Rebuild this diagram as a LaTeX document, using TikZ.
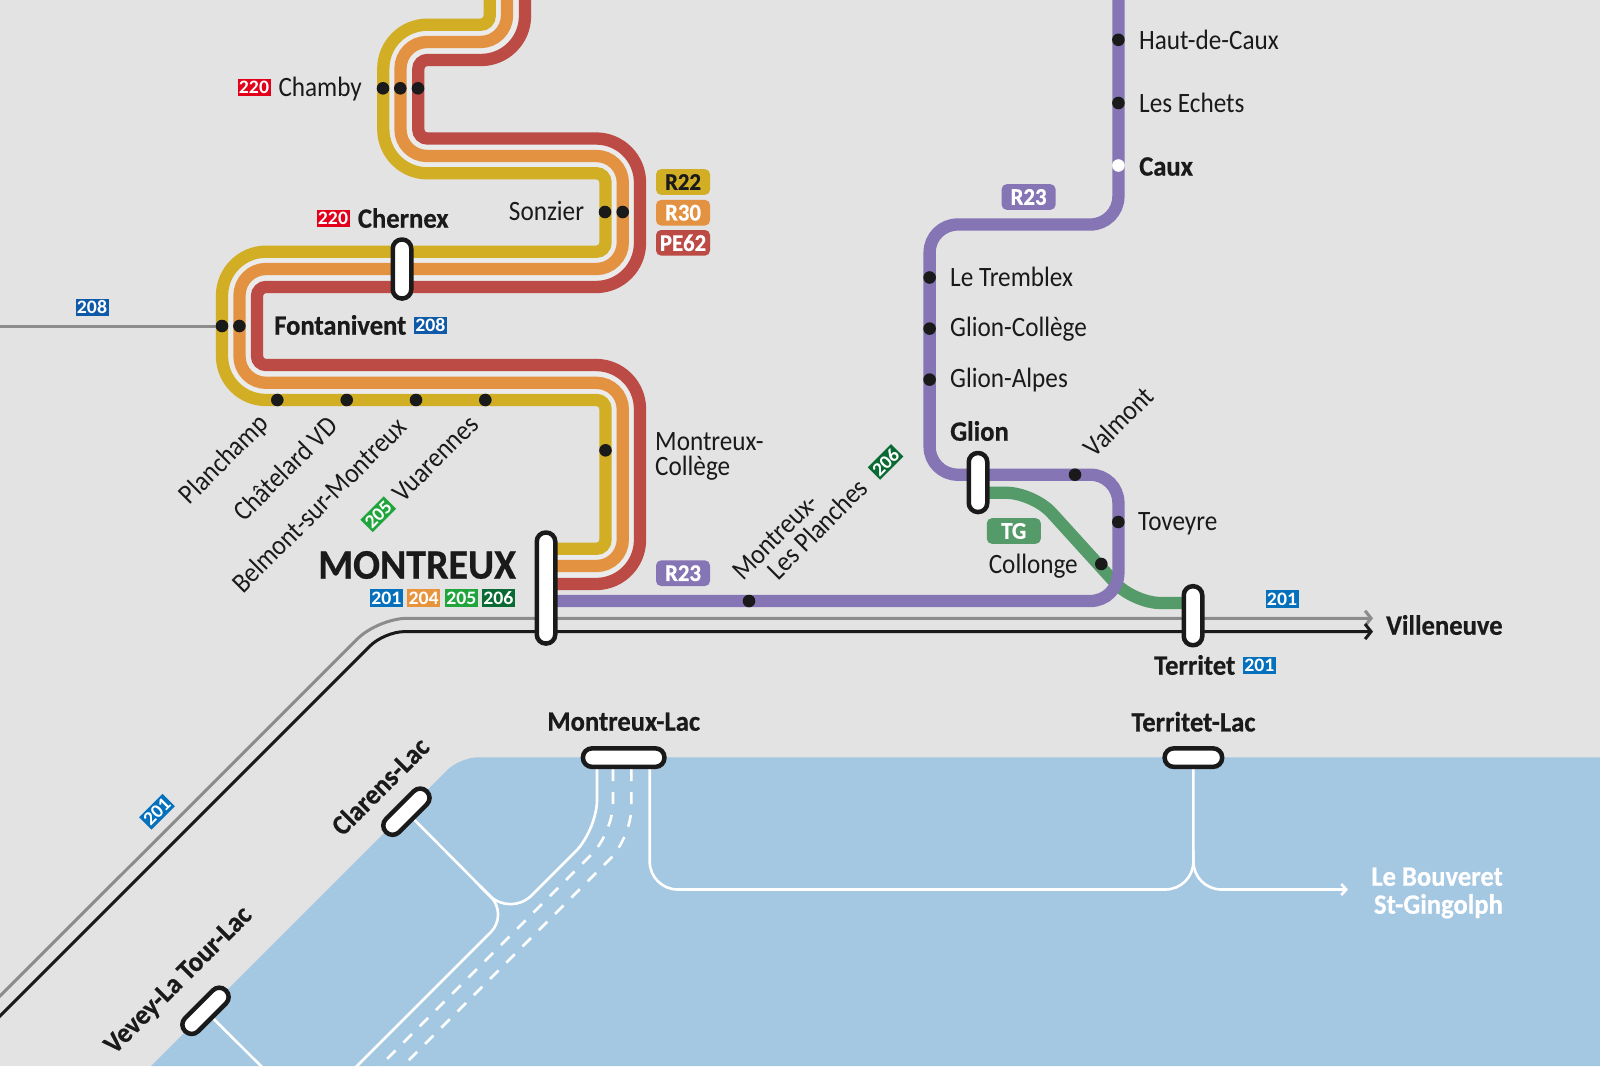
\documentclass[tikz,border=0pt]{standalone}
\usepackage{fontspec}
\setmainfont{Carlito}[FakeStretch=0.9, BoldFeatures={FakeStretch=0.95, FakeBold=0.6}]
\newfontfamily\badgefont{Carlito}[FakeStretch=1.04]
\usetikzlibrary{arrows.meta,backgrounds}
\definecolor{ink}{HTML}{1A1A1A}
\definecolor{paper}{HTML}{E3E3E3}
\definecolor{gapgrey}{HTML}{EBEBEB}
\definecolor{lake}{HTML}{A4C7E2}
\definecolor{lineyellow}{HTML}{D1AE24}
\definecolor{lineorange}{HTML}{E39241}
\definecolor{linered}{HTML}{BC4B45}
\definecolor{linepurple}{HTML}{8675B4}
\definecolor{linegreen}{HTML}{559B69}
\definecolor{railgrey}{HTML}{8C8C8C}
\definecolor{bus201}{HTML}{0570BB}
\definecolor{bus208}{HTML}{0F5AA8}
\definecolor{bus204}{HTML}{E8943D}
\definecolor{bus205}{HTML}{1FA53C}
\definecolor{bus206}{HTML}{0A6A33}
\definecolor{bus220}{HTML}{E2001A}
\tikzset{
    track/.style={line width=12.3pt},
    rail/.style={line width=3pt},
    ferry/.style={draw=white, line width=2.6pt},
    ferrydash/.style={ferry, dash pattern=on 12pt off 11pt},
    station/.style={rectangle, draw=ink, fill=white, line width=4.5pt, rounded corners=9pt, minimum width=18.5pt, inner sep=0pt},
    pier/.style={rectangle, draw=ink, fill=white, line width=4.5pt, rounded corners=9pt, minimum height=18.5pt, inner sep=0pt},
    halt/.style={circle, fill=ink, minimum size=12.6pt, inner sep=0pt},
    stopname/.style={text=ink, inner sep=0pt, font=\fontsize{28}{25}\selectfont, align=left},
    boldname/.style={stopname, font=\fontsize{28}{25}\selectfont\bfseries},
    busbadge/.style={fill=#1, text=white, minimum width=33pt, minimum height=17.5pt, inner sep=0pt, font=\fontsize{19}{19}\selectfont\badgefont\bfseries},
    linebadge/.style={fill=#1, text=white, rounded corners=5pt, minimum width=54pt, minimum height=25.6pt, inner sep=0pt, font=\fontsize{24}{24}\selectfont\bfseries}
}
\begin{document}
\begin{tikzpicture}[x=1pt, y=-1pt]
    \useasboundingbox (0,0) rectangle (1600,1066);

    \node[station, minimum height=59pt] (chernex) at (402,269) {};
    \node[station, minimum height=111pt] (montreux) at (546,588) {};
    \node[station, minimum height=59pt] (glion) at (978,482.5) {};
    \node[station, minimum height=59pt] (territet) at (1193,615.7) {};
    \node[pier, minimum width=81.5pt] (montreuxlac) at (623.7,757.6) {};
    \node[pier, minimum width=57.5pt] (territetlac) at (1193.4,757.6) {};
    \node[pier, minimum width=57.5pt, rotate=45] (clarenslac) at (406.4,811.7) {};
    \node[pier, minimum width=57.5pt, rotate=45] (veveylac) at (205.5,1010.8) {};

    \node[halt] (chamby1) at (383,88.3) {};
    \node[halt] (chamby2) at (400.3,88.3) {};
    \node[halt] (chamby3) at (418,88.3) {};
    \node[halt] (sonzier1) at (605,212) {};
    \node[halt] (sonzier2) at (622.7,212) {};
    \node[halt] (fontanivent1) at (222,326) {};
    \node[halt] (fontanivent2) at (239.4,326) {};
    \node[halt] (planchamp) at (277.3,400) {};
    \node[halt] (chatelard) at (346.7,400) {};
    \node[halt] (belmont) at (416,400) {};
    \node[halt] (vuarennes) at (485.3,400) {};
    \node[halt] (college) at (605.5,450.3) {};
    \node[halt] (planches) at (749,601) {};
    \node[halt] (hautdecaux) at (1118.4,39.8) {};
    \node[halt] (echets) at (1118.4,103) {};
    \node[circle, fill=white, minimum size=12.6pt, inner sep=0pt] (caux) at (1118.4,165.5) {};
    \node[halt] (tremblex) at (929.6,277.5) {};
    \node[halt] (glioncollege) at (929.6,328.6) {};
    \node[halt] (glionalpes) at (929.6,379.6) {};
    \node[halt] (valmont) at (1075,474.7) {};
    \node[halt] (toveyre) at (1118.3,522) {};
    \node[halt] (collonge) at (1101.3,564) {};

    \coordinate (yellowtop) at (489.7,-10);
    \coordinate (orangetop) at (507,-10);
    \coordinate (redtop) at (525,-10);
    \coordinate (purpletop) at (1118.4,-10);
    \coordinate (westedge) at (-10,326);
    \coordinate (greyend) at (1373,618.3);
    \coordinate (blackend) at (1373,631.6);
    \coordinate (bouveret) at (1348,889.5);

    \begin{scope}[on background layer]
        \fill[paper] (0,0) rectangle (1600,1066);
        \fill[lake] (151,1066) [rounded corners=18pt] -- (460,757.3) [sharp corners] -- (1600,757.3) -- (1600,1066) -- cycle;

        \draw[ferry] (veveylac.center) -- (270,1075);
        \draw[ferry, rounded corners=25pt] (clarenslac.center) -- (508.4,914.6) -- (345,1078);
        \draw[ferry, rounded corners=30pt] (montreuxlac.center -| 597,0) -- (597,830) -- (510.4,916.6) -- (480,886);
        \draw[ferrydash, rounded corners=30pt] (613,769) -- (613,833) -- (375,1071);
        \draw[ferrydash, rounded corners=30pt] (631.3,769) -- (631.3,837.7) -- (397,1072);
        \draw[ferry, rounded corners=28pt] (montreuxlac.center -| 649.7,0) -- (649.7,889.5) -- (1193.4,889.5) -- (1193.4,850);
        \draw[ferry, -{Straight Barb[length=5pt,width=11pt]}, rounded corners=28pt] (territetlac.center) -- (1193.4,889.5) -- (bouveret);

        \draw[railgrey, line width=3pt] (westedge) -- (fontanivent1);
        \draw[rail, railgrey, -{Straight Barb[length=6pt,width=15pt]}, rounded corners=29pt] (-15,1011) -- (378,618.3) -- (greyend);
        \draw[rail, ink, -{Straight Barb[length=6pt,width=15pt]}, rounded corners=20pt] (-15,1031) -- (384.4,631.6) -- (blackend);

        \draw[gapgrey, line width=24pt, rounded corners=26.5pt] (orangetop) -- (507,42) -- (400.5,42) -- (400.5,156) -- (622.8,156) -- (622.8,269) -- (239.5,269) -- (239.5,382.8) -- (622.8,382.8) -- (622.8,566) -- (montreux.center |- 0,566);
        \draw[track, lineorange, rounded corners=26.5pt] (orangetop) -- (507,42) -- (400.5,42) -- (400.5,156) -- (622.8,156) -- (622.8,269) -- (239.5,269) -- (239.5,382.8) -- (622.8,382.8) -- (622.8,566) -- (montreux.center |- 0,566);
        \draw[track, lineyellow] (yellowtop) [rounded corners=9pt] -- (489.7,24.7) [rounded corners=44pt] -- (383.3,24.7) -- (383.3,173.3) [rounded corners=9pt] -- (605.5,173.3) -- (605.5,251.7) [rounded corners=44pt] -- (222,251.7) -- (222,400) [rounded corners=9pt] -- (605.5,400) -- (605.5,548.8) -- (montreux.center |- 0,548.8);
        \draw[track, linered] (redtop) [rounded corners=44pt] -- (525,60) [rounded corners=9pt] -- (418.3,60) -- (418.3,138.5) [rounded corners=44pt] -- (640,138.5) -- (640,287) [rounded corners=9pt] -- (257,287) -- (257,365) [rounded corners=44pt] -- (640,365) -- (640,584) -- (montreux.center |- 0,584);
        \draw[track, linegreen, rounded corners=27pt] (glion.center |- 0,492.8) -- (1033.4,492.8) -- (1133.5,603) -- (territet.center |- 0,603);
        \draw[track, linepurple, rounded corners=28pt] (purpletop) -- (1118.4,224.5) -- (929.6,224.5) -- (929.6,474.7) -- (1118.4,474.7) -- (1118.4,601) -- (montreux.center |- 0,601);
    \end{scope}

    \node[linebadge=lineyellow, text=ink] (r22) at (683,182) {R22};
    \node[linebadge=lineorange] (r30) at (683,212.7) {R30};
    \node[linebadge=linered] (pe62) at (683,242.8) {PE62};
    \node[linebadge=linepurple] (r23a) at (683,573.2) {R23};
    \node[linebadge=linepurple] (r23b) at (1028.6,197) {R23};
    \node[linebadge=linegreen] (tg) at (1013.8,531) {TG};

    \node[busbadge=bus220] (b220a) at (254,87.5) {220};
    \node[busbadge=bus220] (b220b) at (333,218.5) {220};
    \node[busbadge=bus208] (b208a) at (430.3,325.4) {208};
    \node[busbadge=bus208] (b208b) at (92,307.5) {208};
    \node[busbadge=bus201] (b201a) at (386.3,598) {201};
    \node[busbadge=bus204] (b204) at (423.7,598) {204};
    \node[busbadge=bus205] (b205a) at (461.3,598) {205};
    \node[busbadge=bus206] (b206a) at (498.3,598) {206};
    \node[busbadge=bus205, rotate=45] (b205b) at (378.3,514.3) {205};
    \node[busbadge=bus206, rotate=45] (b206b) at (885.6,462) {206};
    \node[busbadge=bus201, rotate=45] (b201b) at (157,811.7) {201};
    \node[busbadge=bus201] (b201c) at (1282,599) {201};
    \node[busbadge=bus201] (b201d) at (1259.4,665.3) {201};

    \node[stopname, anchor=west] (lchamby) at (278.3,89) {Chamby};
    \node[stopname, anchor=east] (lsonzier) at (584.3,211) {Sonzier};
    \node[boldname, anchor=west] (lchernex) at (357.7,218) {Chernex};
    \node[boldname, anchor=west] (lfontanivent) at (274,325) {Fontanivent};
    \node[stopname, anchor=east, rotate=45] (lplanchamp) at (265,420) {Planchamp};
    \node[stopname, anchor=east, rotate=45] (lchatelard) at (333,421) {Châtelard VD};
    \node[stopname, anchor=east, rotate=45] (lbelmont) at (402,422) {Belmont-sur-Montreux};
    \node[stopname, anchor=east, rotate=45] (lvuarennes) at (474,420) {Vuarennes};
    \node[stopname, anchor=west] (lcollege) at (655,456) {Montreux-\\Collège};
    \node[stopname, anchor=west, rotate=45] (lplanches) at (745.5,584) {Montreux-\\\hspace*{25pt}Les Planches};
    \node[boldname, font=\fontsize{42}{42}\selectfont\bfseries, anchor=west] (lmontreux) at (318,565) {MONTREUX};
    \node[stopname, anchor=west] (lhaut) at (1139,39.8) {Haut-de-Caux};
    \node[stopname, anchor=west] (lechets) at (1139,103) {Les Echets};
    \node[boldname, anchor=west] (lcaux) at (1139,166.5) {Caux};
    \node[stopname, anchor=west] (ltremblex) at (950,277) {Le Tremblex};
    \node[stopname, anchor=west] (lglioncollege) at (950,329.5) {Glion-Collège};
    \node[stopname, anchor=west] (lglionalpes) at (950,380) {Glion-Alpes};
    \node[boldname, anchor=west] (lglion) at (950,431) {Glion};
    \node[stopname, anchor=west, rotate=45] (lvalmont) at (1088,452) {Valmont};
    \node[stopname, anchor=west] (ltoveyre) at (1138,524) {Toveyre};
    \node[stopname, anchor=east] (lcollonge) at (1078,566) {Collonge};
    \node[boldname, anchor=west] (lterritet) at (1154,665) {Territet};
    \node[boldname, anchor=west] (lvilleneuve) at (1386,625) {Villeneuve};
    \node[boldname] (lmontreuxlac) at (623.7,721.7) {Montreux-Lac};
    \node[boldname] (lterritetlac) at (1193.4,721.7) {Territet-Lac};
    \node[boldname, rotate=45] (lclarens) at (380,786) {Clarens-Lac};
    \node[boldname, rotate=45] (lvevey) at (179,981) {Vevey-La Tour-Lac};
    \node[boldname, text=white, align=right, anchor=east] (lbouveret) at (1503,893) {Le Bouveret\\[3pt]St-Gingolph};
\end{tikzpicture}
\end{document}
